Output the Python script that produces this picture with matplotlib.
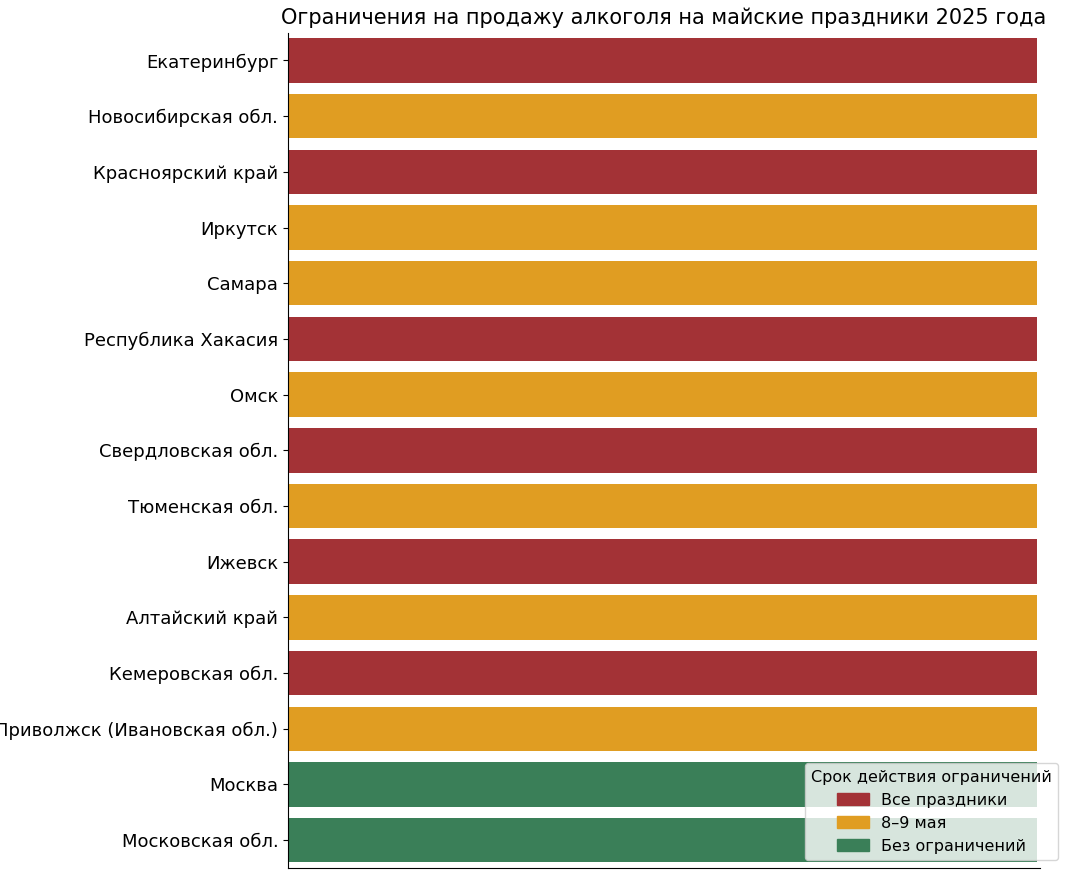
import matplotlib
matplotlib.use("Agg")
import matplotlib.pyplot as plt
from matplotlib.patches import Patch

regions = ["Екатеринбург", "Новосибирская обл.", "Красноярский край", "Иркутск", "Самара",
           "Республика Хакасия", "Омск", "Свердловская обл.", "Тюменская обл.", "Ижевск",
           "Алтайский край", "Кемеровская обл.", "Приволжск (Ивановская обл.)", "Москва",
           "Московская обл."]
status = ["Все праздники", "8–9 мая", "Все праздники", "8–9 мая", "8–9 мая",
          "Все праздники", "8–9 мая", "Все праздники", "8–9 мая", "Все праздники",
          "8–9 мая", "Все праздники", "8–9 мая", "Без ограничений", "Без ограничений"]
values = [1] * len(regions)
categories = ["Все праздники", "8–9 мая", "Без ограничений"]
colors = {"Все праздники": "#A33236", "8–9 мая": "#E09D22", "Без ограничений": "#3A7F58"}

plt.rcParams["font.family"] = "DejaVu Sans"
fig = plt.figure(figsize=(10.89, 8.73), dpi=100)
ax = fig.add_axes([0.2645, 0.0057, 0.6905, 0.957])
y = list(range(len(regions)))
ax.barh(y, values, height=0.8, color=[colors[s] for s in status])
ax.set_yticks(y)
ax.set_yticklabels(regions, fontsize=13)
ax.set_ylim(len(regions) - 0.5, -0.5)
ax.set_xlim(0, 1.004)
ax.set_xticks([])
for s in ["top", "right"]:
    ax.spines[s].set_visible(False)
ax.set_title("Ограничения на продажу алкоголя на майские праздники 2025 года", fontsize=15, pad=6)
handles = [Patch(color=colors[c], label=c) for c in categories]
ax.legend(handles=handles, title="Срок действия ограничений", loc="lower right",
          bbox_to_anchor=(1.035, 0.0), fontsize=11.5, title_fontsize=11.5, framealpha=0.8)
fig.savefig("out.png", dpi=100)
